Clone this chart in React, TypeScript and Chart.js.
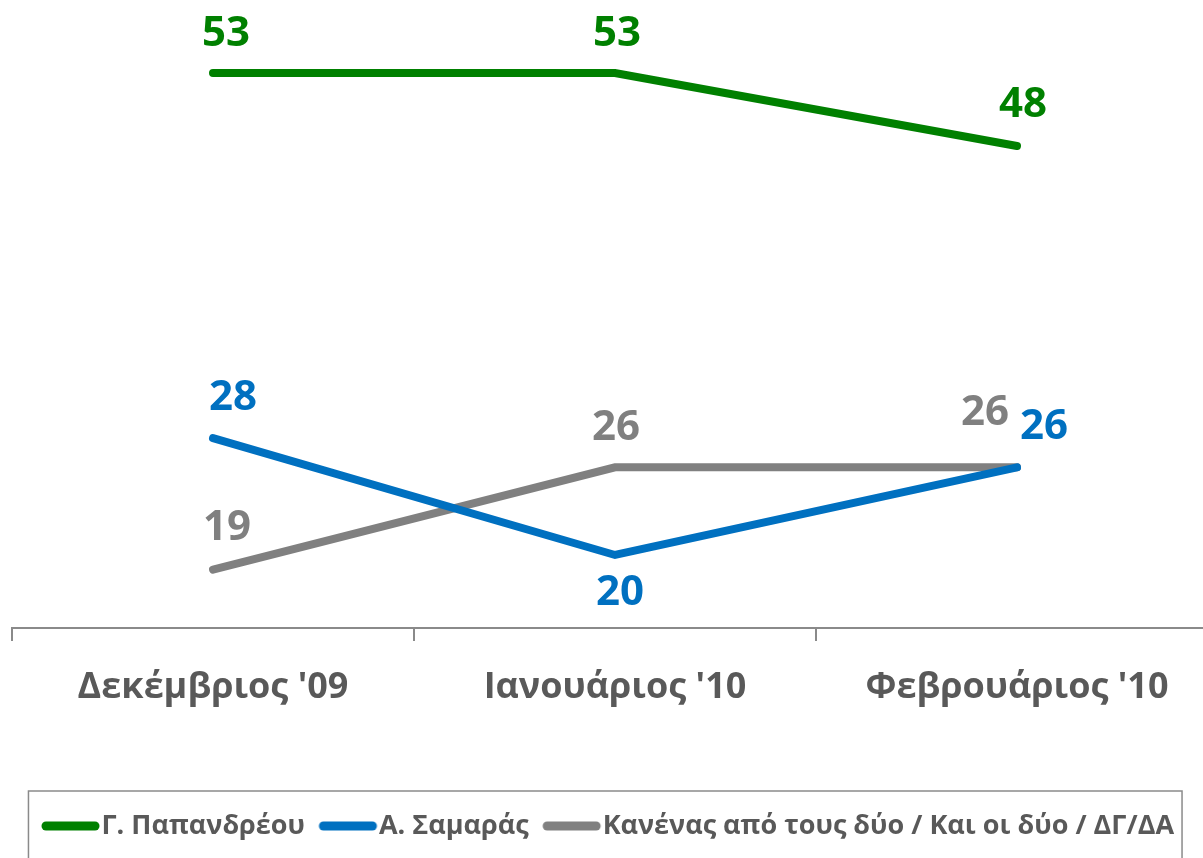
import React, { useEffect, useRef } from "react";
import { Chart, registerables } from "chart.js";

Chart.register(...registerables);

const categories = ["Δεκέμβριος '09", "Ιανουάριος '10", "Φεβρουάριος '10"];
const papandreouValues = [53, 53, 48];
const samarasValues = [28, 20, 26];
const noneValues = [19, 26, 26];
const seriesNames = [
  "Γ. Παπανδρέου",
  "Α. Σαμαράς",
  "Κανένας από τους δύο / Και οι δύο / ΔΓ/ΔΑ",
];

const FONT = "'Open Sans', 'Noto Sans', sans-serif";
const GREEN = "#008000";
const BLUE = "#0070C0";
const GRAY = "#808080";
const TEXT = "#595959";
const AXIS = "#8a8a8a";

function makeLegendLine(color: string) {
  const c = document.createElement("canvas");
  c.width = 80;
  c.height = 14;
  const ctx = c.getContext("2d")!;
  ctx.strokeStyle = color;
  ctx.lineWidth = 9;
  ctx.lineCap = "round";
  ctx.beginPath();
  ctx.moveTo(21, 7);
  ctx.lineTo(70, 7);
  ctx.stroke();
  return c;
}

const pointLabelPlugin = {
  id: "pointLabels",
  afterDatasetsDraw(chart: any) {
    const ctx = chart.ctx;
    chart.data.datasets.forEach((ds: any, i: number) => {
      const meta = chart.getDatasetMeta(i);
      meta.data.forEach((pt: any, j: number) => {
        const off = ds.labelOffsets[j];
        ctx.save();
        ctx.font = `bold ${ds.labelSize}px ${FONT}`;
        ctx.fillStyle = ds.labelColor;
        ctx.textAlign = "center";
        ctx.textBaseline = "middle";
        ctx.fillText(String(ds.data[j]), pt.x + off[0], pt.y + off[1]);
        ctx.restore();
      });
    });
  },
};

const legendFramePlugin = {
  id: "legendFrame",
  afterLayout(chart: any) {
    const lg = chart.legend;
    if (lg) {
      lg.left -= 7;
      lg.right -= 7;
    }
  },
  afterDraw(chart: any) {
    const lg = chart.legend;
    if (!lg || !lg.legendHitBoxes || !lg.legendHitBoxes.length) return;
    const hb = lg.legendHitBoxes;
    const first = hb[0];
    const last = hb[hb.length - 1];
    const left = first.left - 13.5;
    const right = last.left + last.width + 8;
    const top = first.top - 21.5;
    const ctx = chart.ctx;
    ctx.save();
    ctx.strokeStyle = AXIS;
    ctx.lineWidth = 1.5;
    ctx.strokeRect(left, top, right - left, 120);
    ctx.restore();
  },
};

export default function App() {
  const ref = useRef<HTMLCanvasElement>(null);

  useEffect(() => {
    const canvas = ref.current!;
    const chart = new Chart(canvas, {
      type: "line",
      data: {
        labels: categories,
        datasets: [
          {
            label: seriesNames[0],
            data: papandreouValues,
            borderColor: GREEN,
            backgroundColor: GREEN,
            borderWidth: 8,
            borderCapStyle: "round",
            pointRadius: 0,
            tension: 0,
            labelColor: GREEN,
            labelSize: 42,
            labelOffsets: [[13, -39], [2, -39], [6, -41]],
            legendLine: makeLegendLine(GREEN),
          } as any,
          {
            label: seriesNames[1],
            data: samarasValues,
            borderColor: BLUE,
            backgroundColor: BLUE,
            borderWidth: 8,
            borderCapStyle: "round",
            pointRadius: 0,
            tension: 0,
            labelColor: BLUE,
            labelSize: 42,
            labelOffsets: [[20, -40], [5, 38], [27, -40]],
            legendLine: makeLegendLine(BLUE),
          } as any,
          {
            label: seriesNames[2],
            data: noneValues,
            borderColor: GRAY,
            backgroundColor: GRAY,
            borderWidth: 8,
            borderCapStyle: "round",
            pointRadius: 0,
            tension: 0,
            labelColor: GRAY,
            labelSize: 42,
            labelOffsets: [[14, -42], [1, -39], [-32, -54]],
            legendLine: makeLegendLine(GRAY),
          } as any,
        ],
      },
      options: {
        animation: false,
        responsive: false,
        layout: { padding: { left: 12, right: 0, top: 0, bottom: 8.5 } },
        scales: {
          x: {
            type: "category",
            offset: true,
            grid: {
              display: true,
              drawOnChartArea: false,
              drawTicks: true,
              tickLength: 13,
              color: AXIS,
              lineWidth: 2,
              offset: true,
            },
            border: { display: true, color: AXIS, width: 2 },
            ticks: {
              font: { family: FONT, size: 36, weight: "bold" },
              color: TEXT,
              padding: 25,
              maxRotation: 0,
            },
            afterFit: (s: any) => {
              s.height = 170;
            },
          },
          y: { display: false, min: 15, max: 58 },
        },
        plugins: {
          legend: {
            display: true,
            position: "bottom",
            labels: {
              usePointStyle: true,
              pointStyleWidth: 46,
              padding: 14.5,
              color: TEXT,
              font: { family: FONT, size: 27, weight: "bold" },
              generateLabels: (c: any) =>
                c.data.datasets.map((ds: any, i: number) => ({
                  text: ds.label,
                  fillStyle: ds.borderColor,
                  strokeStyle: ds.borderColor,
                  lineWidth: 9,
                  lineCap: "round",
                  pointStyle: ds.legendLine,
                  hidden: false,
                  datasetIndex: i,
                  fontColor: TEXT,
                })),
            },
          },
          tooltip: { enabled: false },
        },
      },
      plugins: [pointLabelPlugin, legendFramePlugin],
    });
    return () => chart.destroy();
  }, []);

  return (
    <div
      style={{
        position: "fixed",
        left: 0,
        top: 0,
        width: 1203,
        height: 858,
        overflow: "hidden",
        background: "#ffffff",
      }}
    >
      <canvas
        ref={ref}
        width={1218}
        height={858}
        style={{ display: "block", width: 1218, height: 858 }}
      />
    </div>
  );
}
